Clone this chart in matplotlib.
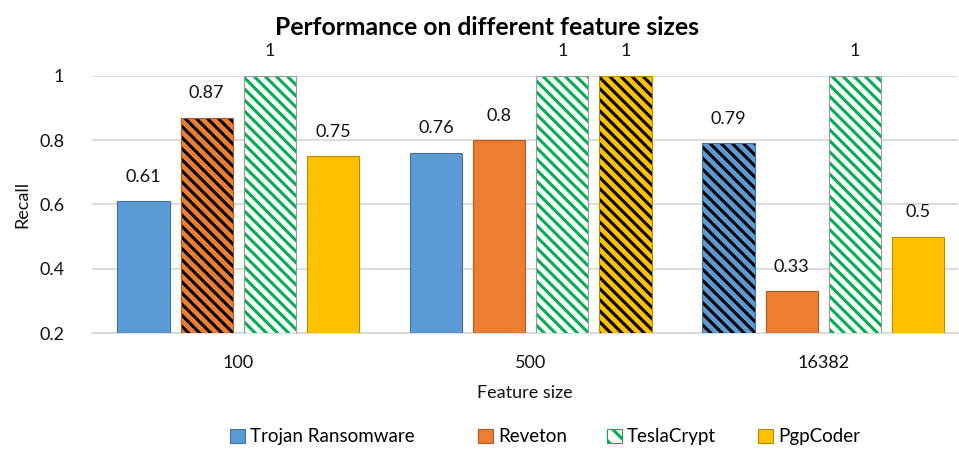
import matplotlib

matplotlib.use("Agg")
import matplotlib.pyplot as plt
import numpy as np
from matplotlib.patches import Patch

# data
feature_sizes = ["100", "500", "16382"]
series_names = ["Trojan Ransomware", "Reveton", "TeslaCrypt", "PgpCoder"]
trojan = [0.61, 0.76, 0.79]
reveton = [0.87, 0.80, 0.33]
teslacrypt = [1.0, 1.0, 1.0]
pgpcoder = [0.75, 1.0, 0.5]
# index of the series drawn with black stripes in each group
best_idx = [1, 3, 0]

colors = ["#5B9BD5", "#ED7D31", "#00B050", "#FFC000"]
edge_dark = ["#41719C", "#AE5A21", "#9A9A9A", "#BC8C00"]
HATCH = "\\\\\\"

plt.rcParams["font.family"] = ["Lato", "DejaVu Sans"]
plt.rcParams["hatch.linewidth"] = 2.2

fig = plt.figure(figsize=(9.59, 4.49), dpi=100)
ax = fig.add_axes([92 / 959, 116 / 449, 866 / 959, 257 / 449])

values = [trojan, reveton, teslacrypt, pgpcoder]
x = np.arange(len(feature_sizes))
step = 0.216
width = 0.178

for i, (name, vals) in enumerate(zip(series_names, values)):
    pos = x + (i - 1.5) * step
    for j, (p, v) in enumerate(zip(pos, vals)):
        if i == 2:
            ax.bar(p, v - 0.2, bottom=0.2, width=width, color="white",
                   edgecolor=colors[2], hatch=HATCH, linewidth=0, zorder=3)
        elif best_idx[j] == i:
            ax.bar(p, v - 0.2, bottom=0.2, width=width, color=colors[i],
                   edgecolor="black", hatch=HATCH, linewidth=0, zorder=3)
        else:
            ax.bar(p, v - 0.2, bottom=0.2, width=width, color=colors[i],
                   linewidth=0, zorder=3)
        # thin outline
        ax.bar(p, v - 0.2, bottom=0.2, width=width, fill=False,
               edgecolor=edge_dark[i], linewidth=0.8, zorder=4)
        ax.annotate(f"{v:g}", (p, v), xytext=(0, 12), textcoords="offset points",
                    ha="center", va="bottom", fontsize=13, color="#111111",
                    annotation_clip=False)

ax.set_xlim(-0.5, -0.5 + 866 / 292.5)
ax.set_ylim(0.2, 1.0)
ax.set_yticks([0.2, 0.4, 0.6, 0.8, 1.0])
ax.set_yticklabels(["0.2", "0.4", "0.6", "0.8", "1"])
ax.set_xticks(x)
ax.set_xticklabels(feature_sizes)
ax.tick_params(axis="both", length=0, labelsize=13, labelcolor="#111111")
ax.tick_params(axis="y", pad=20)
ax.tick_params(axis="x", pad=16)
ax.grid(axis="y", color="#D9D9D9", linewidth=1.3, zorder=0)
ax.set_axisbelow(True)
for s in ["top", "right", "left"]:
    ax.spines[s].set_visible(False)
ax.spines["bottom"].set_color("#D9D9D9")
ax.spines["bottom"].set_linewidth(1.3)

ax.set_ylabel("Recall", fontsize=13, labelpad=6, color="#111111")
ax.set_xlabel("Feature size", fontsize=13, labelpad=10, color="#111111")
fig.text(0.508, 0.938, "Performance on different feature sizes", ha="center",
         va="center", fontsize=17.8, fontweight="bold")

handles = [
    Patch(facecolor=colors[0], edgecolor=edge_dark[0], linewidth=0.8),
    Patch(facecolor=colors[1], edgecolor=edge_dark[1], linewidth=0.8),
    Patch(facecolor="white", edgecolor=colors[2], hatch="\\\\", linewidth=0.8),
    Patch(facecolor=colors[3], edgecolor=edge_dark[3], linewidth=0.8),
]
legend_x = [230, 478, 607, 758]
for h, name, lx in zip(handles, series_names, legend_x):
    leg = fig.legend([h], [name], loc="center left", bbox_to_anchor=(lx / 959, 0.027),
                     frameon=False, fontsize=13.5, handlelength=0.8, handleheight=0.75,
                     handletextpad=0.27, borderpad=0, borderaxespad=0)

fig.savefig("out.png", dpi=100)
